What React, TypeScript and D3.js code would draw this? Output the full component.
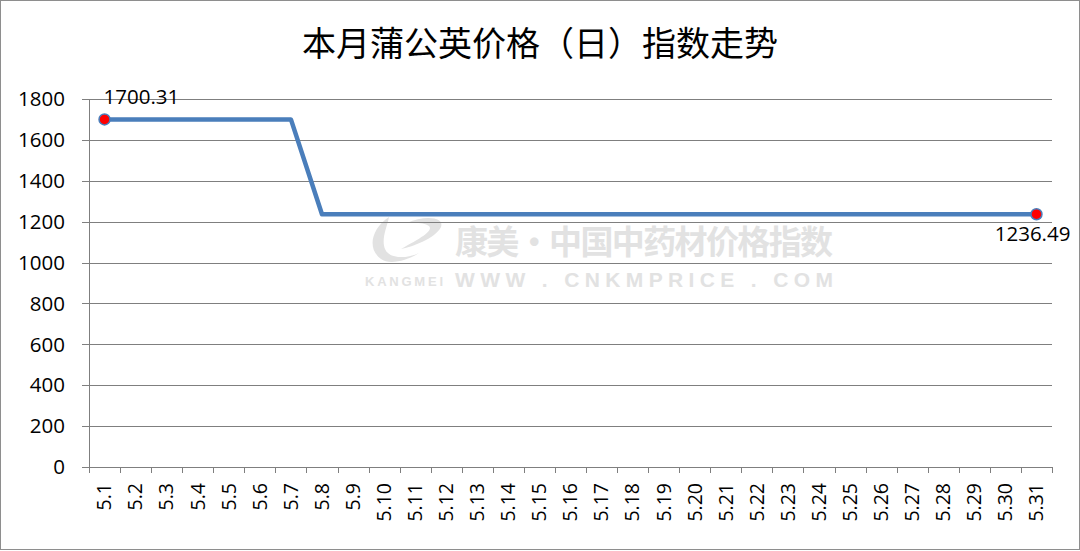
import React, { useRef, useEffect } from 'react';
import * as d3 from 'd3';

const titleText = '本月蒲公英价格（日）指数走势';
const days = d3.range(1, 32).map(d => `5.${d}`);
const indexValues = [
  1700.31, 1700.31, 1700.31, 1700.31, 1700.31, 1700.31, 1700.31,
  1236.49, 1236.49, 1236.49, 1236.49, 1236.49, 1236.49, 1236.49,
  1236.49, 1236.49, 1236.49, 1236.49, 1236.49, 1236.49, 1236.49,
  1236.49, 1236.49, 1236.49, 1236.49, 1236.49, 1236.49, 1236.49,
  1236.49, 1236.49, 1236.49,
];
const yTicks = [0, 200, 400, 600, 800, 1000, 1200, 1400, 1600, 1800];

const App: React.FC = () => {
  const svgRef = useRef<SVGSVGElement | null>(null);
  const width = 1080;
  const height = 551;

  useEffect(() => {
    const svg = d3.select(svgRef.current);
    svg.selectAll('*').remove();

    const margin = { top: 99, right: 28, bottom: 84, left: 89 };
    const innerW = width - margin.left - margin.right;
    const innerH = height - margin.top - margin.bottom;

    svg.append('rect')
      .attr('x', 0.5).attr('y', 0.5)
      .attr('width', width - 1).attr('height', height - 2)
      .attr('fill', '#fff').attr('stroke', '#8e8e8e');

    svg.append('text')
      .attr('x', 540).attr('y', 56)
      .attr('text-anchor', 'middle')
      .attr('font-family', '"Noto Sans CJK SC", sans-serif')
      .attr('font-size', 34)
      .attr('fill', '#000')
      .text(titleText);

    const x = d3.scaleBand<string>().domain(days).range([0, innerW]);
    const y = d3.scaleLinear().domain([0, 1800]).range([innerH, 0]);

    const g = svg.append('g').attr('transform', `translate(${margin.left},${margin.top})`);

    // watermark
    const wm = g.append('g').attr('fill', '#e2e2e2');
    wm.append('path')
      .attr('d', 'M300,118 C282,130 278,150 292,160 C300,166 318,162 330,154 C318,160 300,160 296,150 C292,140 298,128 300,118 Z');
    wm.append('path')
      .attr('d', 'M318,124 C335,116 356,118 352,128 C346,140 322,148 312,150 C330,140 345,132 340,127 C335,123 325,124 318,124 Z');
    wm.append('text')
      .attr('x', 366).attr('y', 155)
      .attr('font-family', '"Noto Sans CJK SC", sans-serif')
      .attr('font-weight', 'bold')
      .attr('font-size', 33)
      .attr('textLength', 378)
      .text('康美·中国中药材价格指数');
    wm.append('text')
      .attr('x', 276).attr('y', 187)
      .attr('font-family', '"Liberation Sans", sans-serif')
      .attr('font-weight', 'bold')
      .attr('font-size', 13)
      .attr('textLength', 78)
      .text('KANGMEI');
    wm.append('text')
      .attr('x', 366).attr('y', 188)
      .attr('font-family', '"Liberation Sans", sans-serif')
      .attr('font-weight', 'bold')
      .attr('font-size', 21)
      .attr('textLength', 378)
      .text('WWW . CNKMPRICE . COM');

    // gridlines with left tick stubs
    g.append('g')
      .selectAll('line')
      .data(yTicks.filter(t => t > 0))
      .enter()
      .append('line')
      .attr('x1', -7).attr('x2', innerW)
      .attr('y1', d => Math.round(y(d)) + 0.5)
      .attr('y2', d => Math.round(y(d)) + 0.5)
      .attr('stroke', '#7f7f7f');

    // axes
    g.append('line')
      .attr('x1', 0.5).attr('x2', 0.5)
      .attr('y1', 0).attr('y2', innerH)
      .attr('stroke', '#7f7f7f');
    g.append('line')
      .attr('x1', -7).attr('x2', innerW)
      .attr('y1', innerH + 0.5).attr('y2', innerH + 0.5)
      .attr('stroke', '#7f7f7f');

    g.append('g')
      .selectAll('text')
      .data(yTicks)
      .enter()
      .append('text')
      .attr('x', -24)
      .attr('y', d => y(d))
      .attr('dy', '0.35em')
      .attr('text-anchor', 'end')
      .attr('font-family', '"Open Sans", sans-serif')
      .attr('font-size', 20.5)
      .attr('fill', '#000')
      .text(d => String(d));

    // x ticks
    const edges = days.map(d => x(d)!).concat([innerW]);
    g.append('g')
      .selectAll('line')
      .data(edges)
      .enter()
      .append('line')
      .attr('x1', d => Math.round(d) + 0.5).attr('x2', d => Math.round(d) + 0.5)
      .attr('y1', innerH).attr('y2', innerH + 6)
      .attr('stroke', '#7f7f7f');

    g.append('g')
      .selectAll('text')
      .data(days)
      .enter()
      .append('text')
      .attr('transform', d => `translate(${x(d)! + x.bandwidth() / 2},${innerH + 16}) rotate(-90)`)
      .attr('dy', '0.35em')
      .attr('text-anchor', 'end')
      .attr('font-family', '"Open Sans", sans-serif')
      .attr('font-size', 19.5)
      .attr('fill', '#000')
      .text(d => d);

    // line
    const line = d3.line<number>()
      .x((_, i) => x(days[i])! + x.bandwidth() / 2)
      .y(d => y(d));
    g.append('path')
      .datum(indexValues)
      .attr('d', line)
      .attr('fill', 'none')
      .attr('stroke', '#4a7ebb')
      .attr('stroke-width', 4.5)
      .attr('stroke-linejoin', 'round');

    const ends = [0, indexValues.length - 1];
    g.append('g')
      .selectAll('circle')
      .data(ends)
      .enter()
      .append('circle')
      .attr('cx', i => x(days[i])! + x.bandwidth() / 2)
      .attr('cy', i => y(indexValues[i]))
      .attr('r', 5.5)
      .attr('fill', '#ff0000')
      .attr('stroke', '#4a7ebb')
      .attr('stroke-width', 1.5);

    g.append('text')
      .attr('x', x(days[0])! + x.bandwidth() / 2 - 1)
      .attr('y', y(indexValues[0]) - 15)
      .attr('font-family', '"Open Sans", sans-serif')
      .attr('font-size', 20.5)
      .attr('fill', '#000')
      .text(indexValues[0].toFixed(2));

    const last = indexValues.length - 1;
    g.append('text')
      .attr('x', x(days[last])! + x.bandwidth() / 2 + 34)
      .attr('y', y(indexValues[last]) + 27)
      .attr('text-anchor', 'end')
      .attr('font-family', '"Open Sans", sans-serif')
      .attr('font-size', 20.5)
      .attr('fill', '#000')
      .text(indexValues[last].toFixed(2));
  }, []);

  return (
    <svg
      ref={svgRef}
      width={width}
      height={height}
      style={{ position: 'absolute', left: 0, top: 0, display: 'block' }}
    ></svg>
  );
};

export default App;
